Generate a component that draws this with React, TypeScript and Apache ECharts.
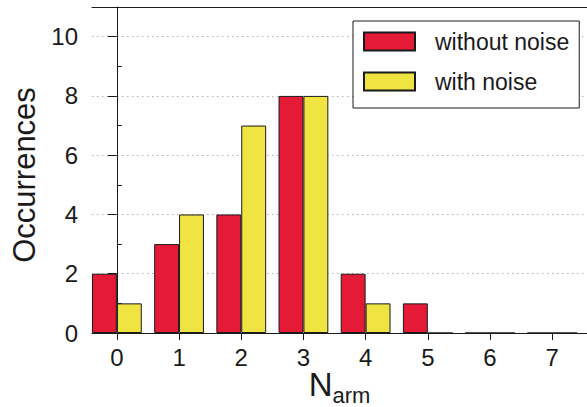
import React, { useEffect, useRef } from "react";
import * as echarts from "echarts";

const categories = [0, 1, 2, 3, 4, 5, 6, 7];
const withoutNoise = [2, 3, 4, 8, 2, 1, 0, 0];
const withNoise = [1, 4, 7, 8, 1, 0, 0, 0];
const yMajorTicks = [0, 2, 4, 6, 8, 10];
const yMinorTicks = [1, 3, 5, 7, 9];
const seriesNames = ["without noise", "with noise"];

const FONT = "Liberation Sans";
const INK = "#1a1a1a";

export default function App() {
  const ref = useRef<HTMLDivElement>(null);
  useEffect(() => {
    if (!ref.current) return;
    const chart = echarts.init(ref.current, null, { renderer: "svg" });
    const xMin = -0.4;
    const xMax = 7.56;
    chart.setOption({
      animation: false,
      backgroundColor: "#ffffff",
      textStyle: { fontFamily: FONT },
      grid: { left: 92, right: 0, top: 7, bottom: 74, containLabel: false, outerBoundsMode: "none" },
      legend: {
        data: seriesNames,
        orient: "vertical",
        left: 353,
        top: 21,
        align: "left",
        icon: "rect",
        itemWidth: 51,
        itemHeight: 18,
        itemGap: 17,
        padding: [9, 10, 15, 10],
        backgroundColor: "#ffffff",
        borderColor: INK,
        borderWidth: 1,
        borderRadius: 0,
        textStyle: { fontSize: 23, color: INK, fontFamily: FONT, padding: [0, 0, 0, 15] },
      },
      xAxis: [
        {
          type: "value",
          min: xMin,
          max: xMax,
          position: "bottom",
          axisLine: { show: true, lineStyle: { color: INK, width: 1 } },
          axisTick: { show: true, length: 7, customValues: categories, lineStyle: { color: INK } },
          axisLabel: { customValues: categories, fontSize: 24, color: INK, margin: 12, fontFamily: FONT },
          splitLine: { show: false },
          name: "{n|N}{s|arm}",
          nameLocation: "middle",
          nameGap: 35,
          nameMoveOverlap: false,
          nameTextStyle: {
            rich: {
              n: { fontSize: 33, lineHeight: 36, verticalAlign: "top", color: INK, fontFamily: FONT },
              s: { fontSize: 22, lineHeight: 18, verticalAlign: "top", padding: [16, 0, 0, 0], color: INK, fontFamily: FONT },
            },
          },
        },
        {
          type: "value",
          min: xMin,
          max: xMax,
          position: "top",
          axisLine: { show: true, onZero: false, lineStyle: { color: INK, width: 1 } },
          axisTick: { show: false },
          axisLabel: { show: false },
          splitLine: { show: false },
        },
      ],
      yAxis: [
        {
          type: "value",
          min: 0,
          max: 11,
          interval: 2,
          axisLine: { show: true, lineStyle: { color: INK, width: 1 } },
          axisTick: { show: true, length: 9, customValues: yMajorTicks, lineStyle: { color: INK } },
          axisLabel: { customValues: yMajorTicks, fontSize: 24, color: INK, margin: 14, fontFamily: FONT },
          splitLine: { show: true, lineStyle: { color: "#b0b0b0", type: [1.5, 3.5], width: 1 } },
          name: "Occurrences",
          nameLocation: "middle",
          nameGap: 52,
          nameMoveOverlap: false,
          nameTextStyle: { fontSize: 31, color: INK, fontFamily: FONT, padding: [0, 10, 0, 0] },
        },
        {
          type: "value",
          min: 0,
          max: 11,
          interval: 1,
          axisLine: { show: false },
          axisTick: { show: true, length: 5, customValues: yMinorTicks, lineStyle: { color: INK } },
          axisLabel: { show: false },
          splitLine: { show: false },
        },
      ],
      series: [
        {
          name: seriesNames[0],
          type: "bar",
          xAxisIndex: 0,
          yAxisIndex: 0,
          barWidth: 24.9,
          barGap: "0%",
          itemStyle: { color: "#E41A37", borderColor: INK, borderWidth: 1 },
          data: categories.map((c, i) => [c, withoutNoise[i]]),
        },
        {
          name: seriesNames[1],
          type: "bar",
          xAxisIndex: 0,
          yAxisIndex: 0,
          barWidth: 24.9,
          barGap: "0%",
          itemStyle: { color: "#F0E443", borderColor: INK, borderWidth: 1 },
          data: categories.map((c, i) => [c, withNoise[i]]),
        },
      ],
    });
    return () => chart.dispose();
  }, []);
  return (
    <div
      ref={ref}
      style={{ position: "fixed", left: 0, top: 0, width: 587, height: 407 }}
    />
  );
}
